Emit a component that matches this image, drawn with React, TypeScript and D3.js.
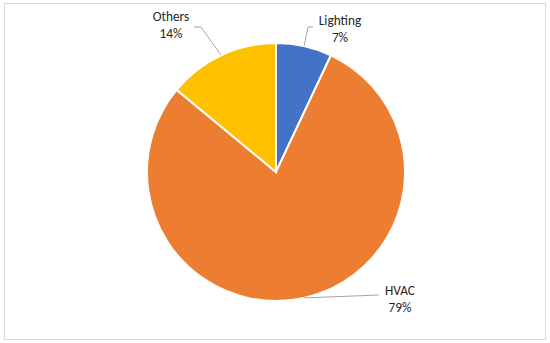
import React from "react";
import * as d3 from "d3";

const categories = ["Lighting", "HVAC", "Others"];
const values = [7, 79, 14];
const labels = ["7%", "79%", "14%"];
const colors = ["#4472C4", "#ED7D31", "#FFC000"];

const W = 550;
const H = 343;
const cx = 276;
const cy = 172;
const R = 129;

// label text centre x and first-line baseline y
const labelPos: [number, number][] = [
  [340, 25],
  [400, 295],
  [171, 21],
];

export default function App() {
  const pie = d3.pie<number>().sort(null).value((d) => d)(values);
  const arc = d3.arc<d3.PieArcDatum<number>>().innerRadius(0).outerRadius(R);
  const font = "Carlito, Calibri, 'Open Sans', 'Noto Sans', sans-serif";

  const edge = (i: number): [number, number] => {
    const a = pie[i];
    const mid = (a.startAngle + a.endAngle) / 2;
    return [cx + Math.sin(mid) * R, cy - Math.cos(mid) * R];
  };

  const leaders = [
    (p: [number, number]) => {
      const [sx, sy] = edge(0);
      return `M${sx},${sy}L${p[0] - 32},${p[1] + 2}L${p[0] - 27},${p[1] + 2}`;
    },
    (p: [number, number]) => {
      const [sx, sy] = edge(1);
      return `M${sx},${sy}L${p[0] - 21},${p[1]}`;
    },
    (p: [number, number]) => {
      const [sx, sy] = edge(2);
      return `M${sx},${sy}L${p[0] + 30},${p[1] + 6}L${p[0] + 23},${p[1] + 6}`;
    },
  ];

  return (
    <svg
      width={W}
      height={H}
      style={{ position: "absolute", left: 0, top: 0, background: "#fff" }}
    >
      <rect x={4.5} y={3.5} width={541} height={336} fill="#fff" stroke="#d9d9d9" strokeWidth={1} />
      <g transform={`translate(${cx},${cy})`}>
        {pie.map((d, i) => (
          <path key={categories[i]} d={arc(d) || ""} fill={colors[i]} stroke="#fff" strokeWidth={2} />
        ))}
      </g>
      {pie.map((d, i) => (
        <path key={"l" + i} d={leaders[i](labelPos[i])} fill="none" stroke="#a6a6a6" strokeWidth={1} />
      ))}
      {categories.map((c, i) => (
        <text
          key={"t" + i}
          x={labelPos[i][0]}
          y={labelPos[i][1]}
          textAnchor="middle"
          fontFamily={font}
          fontSize={13.3}
          fill="#262626"
        >
          <tspan x={labelPos[i][0]} dy={0}>{c}</tspan>
          <tspan x={labelPos[i][0]} dy={16.5}>{labels[i]}</tspan>
        </text>
      ))}
    </svg>
  );
}
